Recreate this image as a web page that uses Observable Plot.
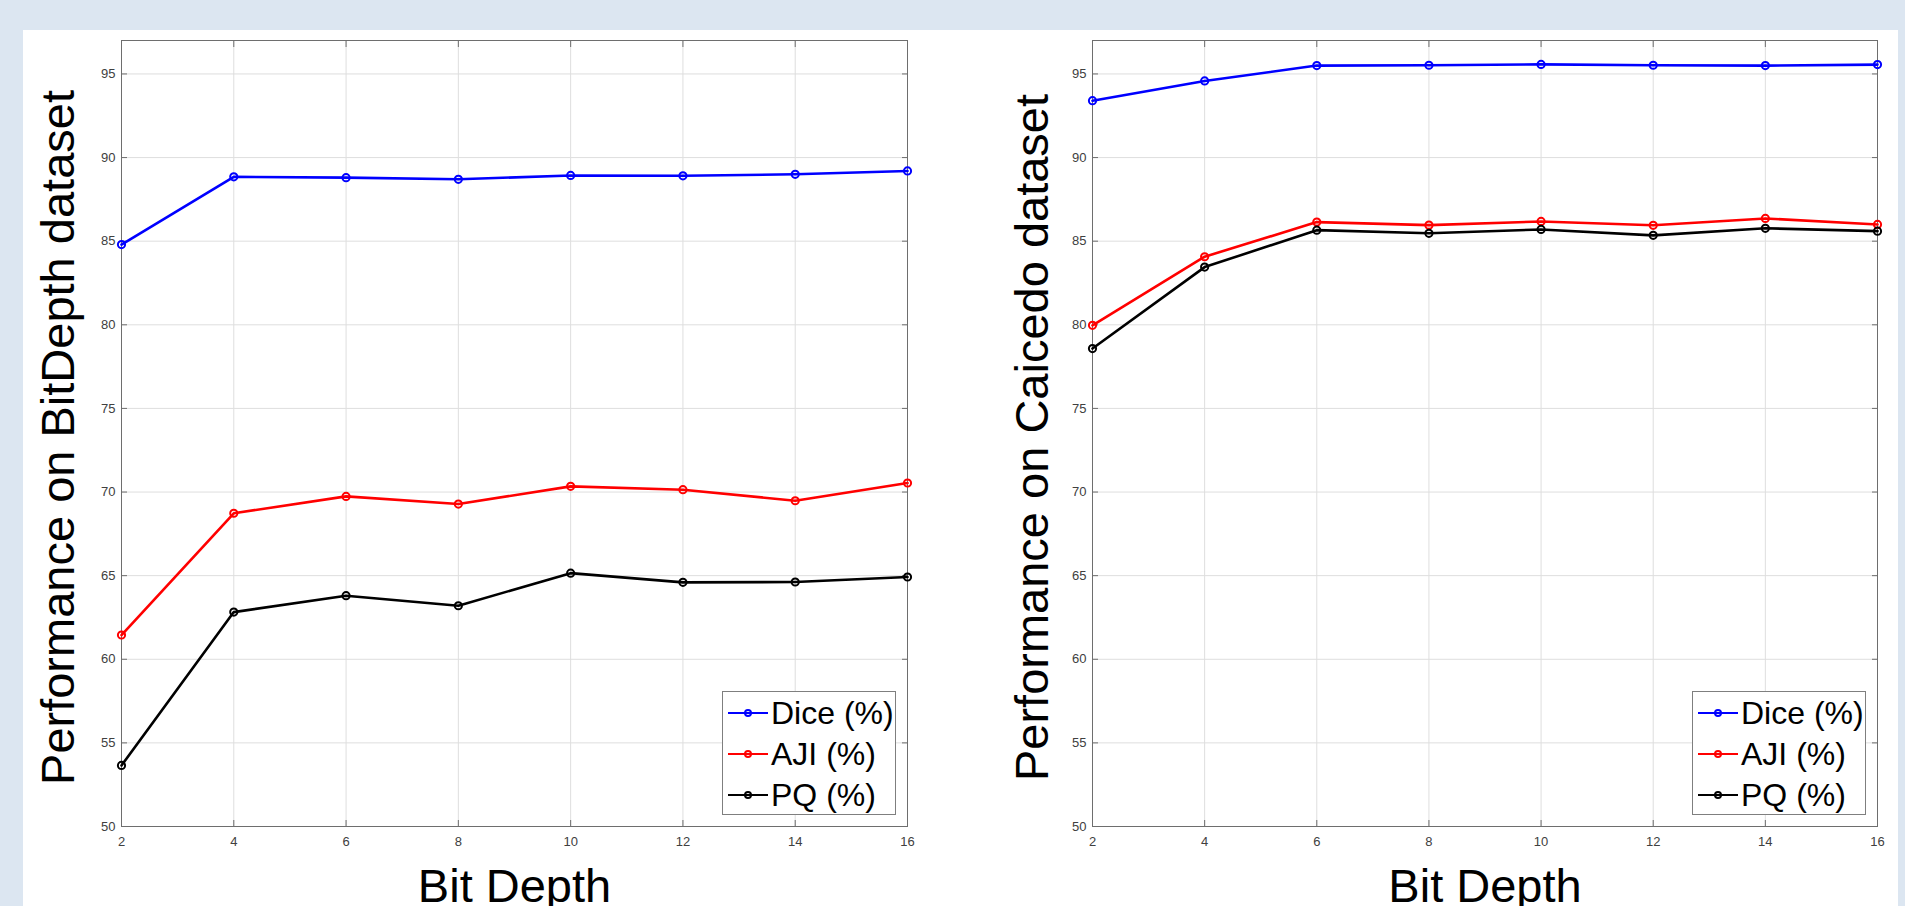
<!DOCTYPE html>
<html><head><meta charset="utf-8">
<script src="https://cdn.jsdelivr.net/npm/d3@7"></script>
<script src="https://cdn.jsdelivr.net/npm/@observablehq/plot@0.6"></script>
<style>
html,body{margin:0;padding:0;background:#dce6f1;width:1905px;height:906px;overflow:hidden;font-family:"Liberation Sans",Arial,sans-serif}
#panel{position:absolute;left:23px;top:30px;width:1875px;height:876px;background:#fff}
.chart{position:absolute;top:30px}
.legend{position:absolute;top:691px;width:172px;height:122px;border:1px solid #7f7f7f;background:#fff}
.row{position:absolute;left:0;height:40px;line-height:40px;font-size:32px;color:#000;white-space:nowrap}
.row svg{position:absolute;left:4px;top:13px}
.row span{position:absolute;left:48px;top:0}
</style></head>
<body>
<div id="panel"></div>
<div id="left" class="chart" style="left:23px"></div>
<div id="right" class="chart" style="left:960px"></div>
<div id="legLeft" class="legend" style="left:722px"></div>
<div id="legRight" class="legend" style="left:1692px"></div>
<script>
const bitDepth = [2, 4, 6, 8, 10, 12, 14, 16];
const diceBitDepth = [84.8, 88.85, 88.8, 88.7, 88.93, 88.91, 89.0, 89.2];
const ajiBitDepth = [61.45, 68.73, 69.74, 69.28, 70.34, 70.14, 69.48, 70.54];
const pqBitDepth = [53.65, 62.82, 63.8, 63.2, 65.15, 64.6, 64.62, 64.92];
const diceCaicedo = [93.4, 94.58, 95.5, 95.52, 95.57, 95.52, 95.5, 95.56];
const ajiCaicedo = [79.97, 84.07, 86.14, 85.96, 86.18, 85.95, 86.36, 86.0];
const pqCaicedo = [78.58, 83.45, 85.66, 85.47, 85.7, 85.35, 85.77, 85.6];
const seriesNames = ["Dice (%)", "AJI (%)", "PQ (%)"];
const seriesColors = ["#0000ff", "#ff0000", "#000000"];
const xTicks = [2, 4, 6, 8, 10, 12, 14, 16];
const yTicks = [50, 55, 60, 65, 70, 75, 80, 85, 90, 95];
const yDomain = [50, 97];
const xLabel = "Bit Depth";
const yLabelLeft = "Performance on BitDepth dataset";
const yLabelRight = "Performance on Caicedo dataset";

function rows(seriesValues) {
  const out = [];
  seriesValues.forEach((vals, i) => {
    vals.forEach((v, j) => out.push({bitDepth: bitDepth[j], value: v, series: seriesNames[i]}));
  });
  return out;
}

const axisColor = "#6e6e6e";
const FONT = "Liberation Sans, Arial, sans-serif";

function chart({data, yLabel, width, marginLeft, marginRight, labelDx}) {
  return Plot.plot({
    width, height: 876,
    marginTop: 10, marginBottom: 80, marginLeft, marginRight,
    style: {fontFamily: FONT, background: "transparent"},
    x: {domain: [2, 16], ticks: xTicks},
    y: {domain: yDomain, ticks: yTicks},
    color: {domain: seriesNames, range: seriesColors},
    marks: [
      Plot.gridX(xTicks, {stroke: "#dedede", strokeOpacity: 1}),
      Plot.gridY(yTicks, {stroke: "#dedede", strokeOpacity: 1}),
      Plot.frame({stroke: axisColor}),
      // inward tick marks on all four sides
      Plot.axisX(xTicks, {anchor: "bottom", tickSize: 6, dy: -6, tickFormat: () => "", label: null, stroke: axisColor}),
      Plot.axisX(xTicks, {anchor: "top", tickSize: 6, dy: 6, tickFormat: () => "", label: null, stroke: axisColor}),
      Plot.axisY(yTicks, {anchor: "left", tickSize: 6, dx: 6, tickFormat: () => "", label: null, stroke: axisColor}),
      Plot.axisY(yTicks, {anchor: "right", tickSize: 6, dx: -6, tickFormat: () => "", label: null, stroke: axisColor}),
      // tick labels
      Plot.axisX(xTicks, {anchor: "bottom", tickSize: 0, tickPadding: 10, fontSize: 13, fill: "#404040", label: null}),
      Plot.axisY(yTicks, {anchor: "left", tickSize: 0, tickPadding: 6, fontSize: 13, fill: "#404040", label: null}),
      // axis titles
      Plot.text([xLabel], {text: d => d, frameAnchor: "bottom", textAnchor: "middle", dy: 75, lineAnchor: "bottom", fontSize: 47, fill: "#000"}),
      Plot.text([yLabel], {text: d => d, frameAnchor: "left", textAnchor: "middle", rotate: -90, dx: labelDx, dy: 4, lineAnchor: "bottom", fontSize: 47, fill: "#000"}),
      // series
      Plot.line(data, {x: "bitDepth", y: "value", z: "series", stroke: "series", strokeWidth: 2.6}),
      Plot.dot(data, {x: "bitDepth", y: "value", stroke: "series", r: 3.6, strokeWidth: 2, fill: "none"})
    ]
  });
}

document.getElementById("left").appendChild(chart({
  data: rows([diceBitDepth, ajiBitDepth, pqBitDepth]),
  yLabel: yLabelLeft, width: 937, marginLeft: 98, marginRight: 53, labelDx: -48
}));
document.getElementById("right").appendChild(chart({
  data: rows([diceCaicedo, ajiCaicedo, pqCaicedo]),
  yLabel: yLabelRight, width: 938, marginLeft: 132, marginRight: 21, labelDx: -45
}));

function legend(el) {
  const centers = [21, 62, 103];
  seriesNames.forEach((name, i) => {
    const row = document.createElement("div");
    row.className = "row";
    row.style.top = (centers[i] - 20) + "px";
    const c = seriesColors[i];
    row.innerHTML = `<svg width="42" height="14"><line x1="1" y1="7" x2="41" y2="7" stroke="${c}" stroke-width="2.2"/><circle cx="21" cy="7" r="3" fill="none" stroke="${c}" stroke-width="2"/></svg><span></span>`;
    row.querySelector("span").textContent = name;
    el.appendChild(row);
  });
}
legend(document.getElementById("legLeft"));
legend(document.getElementById("legRight"));
</script>
</body></html>
